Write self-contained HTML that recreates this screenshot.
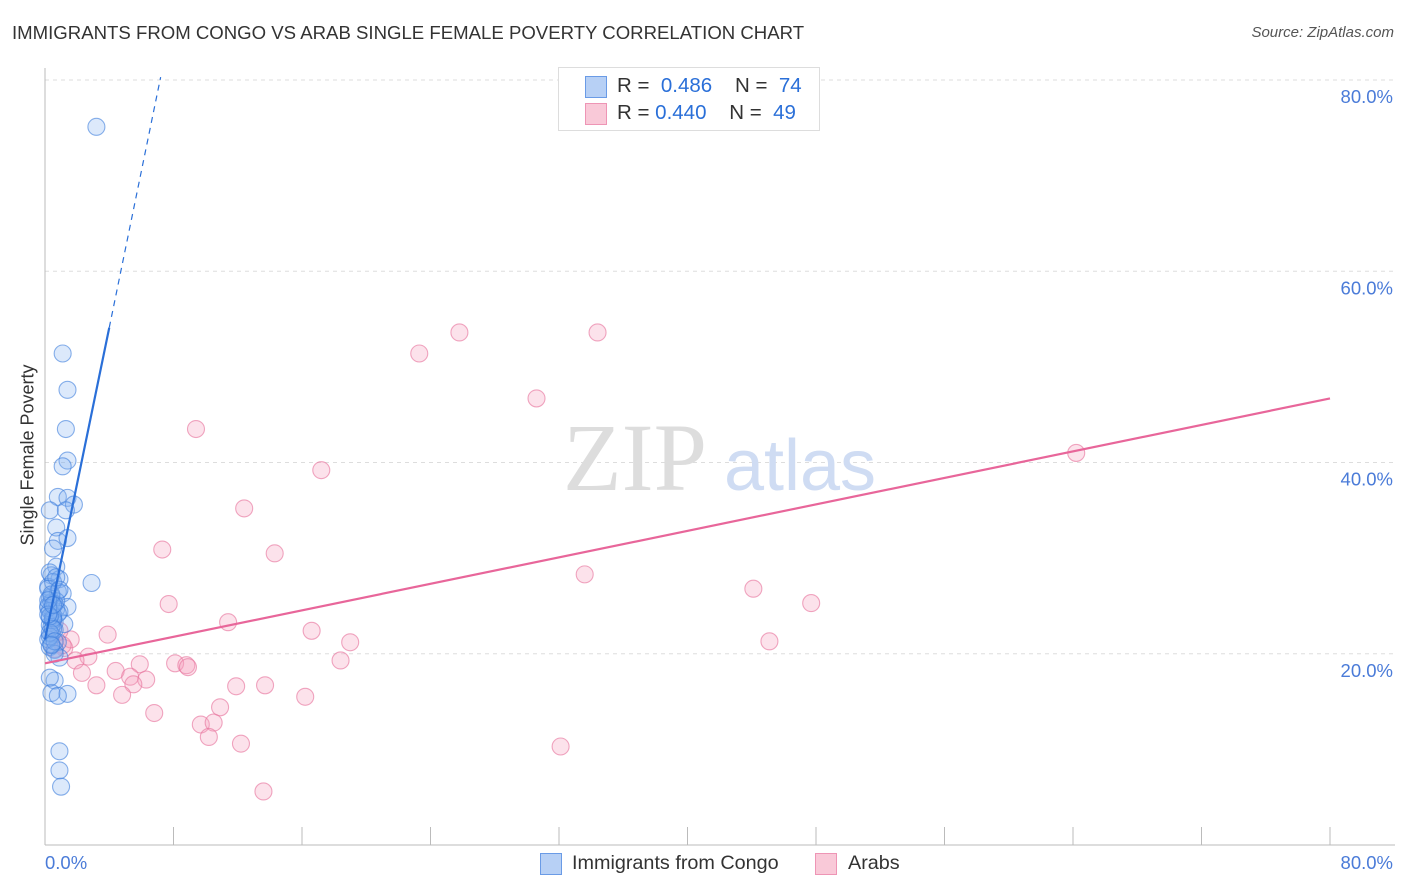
<!DOCTYPE html>
<html><head><meta charset="utf-8">
<style>
body{margin:0;background:#fff;font-family:"Liberation Sans",sans-serif;}
#wrap{position:relative;width:1406px;height:892px;overflow:hidden;}
.t{position:absolute;white-space:nowrap;}
</style></head>
<body>
<div id="wrap">
<div class="t" style="left:12px;top:22px;font-size:18.6px;color:#333;">IMMIGRANTS FROM CONGO VS ARAB SINGLE FEMALE POVERTY CORRELATION CHART</div>
<div class="t" style="right:12px;top:24px;font-size:15px;color:#555;font-style:italic;">Source: ZipAtlas.com</div>
<svg id="svg" width="1406" height="892" style="position:absolute;left:0;top:0"></svg>
</div>
<script>
const yTicks=[20,40,60,80];
const xTickCount=10;
const blueX=[3.2,1.1,1.4,1.3,1.4,1.1,0.8,1.4,1.8,0.3,1.3,0.7,0.8,1.4,0.5,0.7,0.4,0.9,2.9,0.8,1.1,0.3,0.4,1.4,0.7,0.9,0.3,0.6,1.2,0.4,0.8,0.3,0.6,0.9,0.6,0.4,1.4,0.8,0.9,0.9,1.0,0.2,0.5,0.3,0.6,0.2,0.4,0.7,0.3,0.5,0.2,0.4,0.6,0.3,0.5,0.2,0.8,0.4,0.3,0.6,0.2,0.5,0.3,0.4,0.7,0.2,0.3,0.5,0.6,0.4,0.3,0.2,0.9,0.5];
const blueY=[75.1,51.4,47.6,43.5,40.2,39.6,36.4,36.3,35.6,35.0,35.0,33.2,31.8,32.1,31.0,29.1,28.2,27.8,27.4,26.5,26.3,25.8,25.4,24.9,24.7,24.4,23.8,23.3,23.1,22.0,21.2,20.7,20.4,19.6,17.2,15.9,15.8,15.6,9.8,7.8,6.1,25.0,24.0,23.0,22.5,27.0,26.0,25.5,24.5,23.5,21.5,21.0,20.0,28.5,27.5,26.8,24.2,22.8,21.8,25.2,24.8,23.7,22.2,26.2,28.0,25.6,23.9,22.6,21.3,20.9,17.5,24.1,26.7,25.1];
const pinkX=[25.8,34.4,23.3,30.6,64.2,9.4,17.2,12.4,14.3,7.3,33.6,44.1,47.7,7.7,11.4,16.6,19.0,45.1,3.9,18.4,2.7,1.9,5.9,8.1,8.8,8.9,4.4,2.3,5.3,6.3,3.2,11.9,13.7,5.5,4.8,16.2,10.9,6.8,9.7,10.5,10.2,12.2,32.1,13.6,1.2,1.6,1.1,0.6,0.9];
const pinkY=[53.6,53.6,51.4,46.7,41.0,43.5,39.2,35.2,30.5,30.9,28.3,26.8,25.3,25.2,23.3,22.4,21.2,21.3,22.0,19.3,19.7,19.3,18.9,19.0,18.8,18.6,18.2,18.0,17.6,17.3,16.7,16.6,16.7,16.8,15.7,15.5,14.4,13.8,12.6,12.8,11.3,10.6,10.3,5.6,20.6,21.5,20.9,20.5,22.4];
const blueLine=[[0,21.5],[4.0,54.1],[7.2,80.3]];
const pinkLine=[[0,19.0],[80,46.7]];
const X0=45,X1=1330,Y0=845,Y80=80;
const sx=v=>X0+(X1-X0)*v/80, sy=v=>Y0-(Y0-Y80)*v/80;
const svg=document.getElementById('svg');const NS='http://www.w3.org/2000/svg';
function mk(tag,attrs,parent){const e=document.createElementNS(NS,tag);for(const k in attrs)e.setAttribute(k,attrs[k]);(parent||svg).appendChild(e);return e;}
yTicks.forEach(t=>{
 const g=mk('line',{x1:X0,x2:1395,y1:sy(t),y2:sy(t),stroke:'#ddd','stroke-dasharray':'4,4'});
 
 
 const tx=mk('text',{x:1393,y:sy(t)+23,'text-anchor':'end','font-size':18.5,fill:'#4a7bd8','font-family':'Liberation Sans'});
 tx.textContent=t.toFixed(1)+'%';
 
 
});
let a=mk('line',{x1:X0,x2:X0,y1:68,y2:Y0,stroke:'#bbb'});

a=mk('line',{x1:X0,x2:1395,y1:Y0,y2:Y0,stroke:'#bbb'});

for(let i=1;i<=xTickCount;i++){const v=80*i/xTickCount;const l=mk('line',{x1:sx(v),x2:sx(v),y1:827,y2:Y0,stroke:'#bbb'});
 }
let w=mk('text',{x:635,y:490,'text-anchor':'middle','font-size':96,fill:'#ddd','font-family':'Liberation Serif'});w.textContent='ZIP';

w=mk('text',{x:800,y:490,'text-anchor':'middle','font-size':72,fill:'#cfdcf3','font-family':'Liberation Sans'});w.textContent='atlas';

function pts(xs,ys,fill,stroke,name){xs.forEach((x,i)=>{const c=mk('circle',{cx:sx(x),cy:sy(ys[i]),r:8.5,fill:fill,stroke:stroke,'stroke-width':1.1});
 });}
pts(pinkX,pinkY,'rgba(244,160,190,0.3)','rgba(232,120,160,0.65)','arab-point');
pts(blueX,blueY,'rgba(130,175,240,0.28)','rgba(60,125,220,0.6)','congo-point');
let l=mk('line',{x1:sx(pinkLine[0][0]),y1:sy(pinkLine[0][1]),x2:sx(pinkLine[1][0]),y2:sy(pinkLine[1][1]),stroke:'#e8669a','stroke-width':2.2});

l=mk('line',{x1:sx(blueLine[0][0]),y1:sy(blueLine[0][1]),x2:sx(blueLine[1][0]),y2:sy(blueLine[1][1]),stroke:'#2a6fd8','stroke-width':2.2});

l=mk('line',{x1:sx(blueLine[1][0]),y1:sy(blueLine[1][1]),x2:sx(blueLine[2][0]),y2:sy(blueLine[2][1]),stroke:'#2a6fd8','stroke-width':1.2,'stroke-dasharray':'6,5'});

</script>
<div class="t" style="left:45px;top:852px;font-size:18.5px;color:#4a7bd8;">0.0%</div>
<div class="t" style="right:13px;top:852px;font-size:18.5px;color:#4a7bd8;">80.0%</div>
<div class="t" style="left:17px;top:455px;font-size:18px;color:#333;transform:translate(-50%,-50%) rotate(-90deg);transform-origin:center;margin-left:11px;">Single Female Poverty</div>
<div style="position:absolute;left:558px;top:67px;width:260px;height:62px;border:1px solid #ddd;background:#fff;font-size:20.5px;">
 <div class="t" style="left:26px;top:8px;width:20px;height:20px;background:#b7d0f5;border:1px solid #6a9be6;"></div>
 <div class="t" style="left:58px;top:6px;color:#333;">R = &nbsp;<span style="color:#2a6fd8">0.486</span>&nbsp;&nbsp;&nbsp; N = &nbsp;<span style="color:#2a6fd8">74</span></div>
 <div class="t" style="left:26px;top:35px;width:20px;height:20px;background:#f9c9d8;border:1px solid #ee95b5;"></div>
 <div class="t" style="left:58px;top:33px;color:#333;">R = <span style="color:#2a6fd8">0.440</span>&nbsp;&nbsp;&nbsp; N = &nbsp;<span style="color:#2a6fd8">49</span></div>
</div>
<div class="t" style="left:540px;top:853px;width:20px;height:20px;background:#b7d0f5;border:1px solid #6a9be6;"></div>
<div class="t" style="left:572px;top:852px;font-size:19.8px;color:#333;">Immigrants from Congo</div>
<div class="t" style="left:815px;top:853px;width:20px;height:20px;background:#f9c9d8;border:1px solid #ee95b5;"></div>
<div class="t" style="left:848px;top:852px;font-size:19.8px;color:#333;">Arabs</div>
</body></html>
